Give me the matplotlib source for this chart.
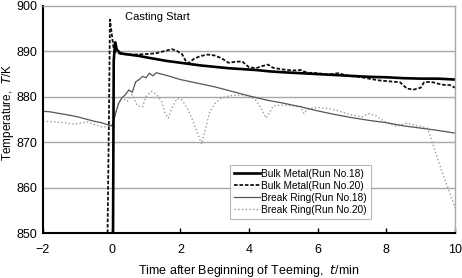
import matplotlib
matplotlib.use("Agg")
import matplotlib.pyplot as plt

plt.rcParams["font.family"] = ["Liberation Sans", "DejaVu Sans"]

# Bulk metal, Run No.18 (thick solid)
bulk18_t = [0.04, 0.06, 0.10, 0.15, 0.25, 0.4, 0.6, 0.8, 1.0, 1.3, 1.6, 2.0, 2.3, 2.6,
            3.0, 3.4, 3.8, 4.2, 4.6, 5.0, 5.5, 6.0, 6.5, 7.0, 7.5, 8.0, 8.5, 9.0, 9.5, 10.0]
bulk18_T = [850.0, 888.0, 892.0, 890.4, 889.6, 889.4, 889.2, 889.0, 888.7, 888.3, 887.9,
            887.5, 887.2, 886.9, 886.6, 886.3, 886.1, 885.9, 885.6, 885.4, 885.2, 885.0,
            884.8, 884.6, 884.4, 884.3, 884.1, 884.0, 884.0, 883.8]

# Bulk metal, Run No.20 (dashed)
bulk20_t = [-0.12, -0.08, -0.05, 0.0, 0.05, 0.12, 0.2, 0.3, 0.6, 1.0, 1.3, 1.6, 1.75,
            1.9, 2.05, 2.15, 2.25, 2.4, 2.6, 2.8, 3.0, 3.2, 3.4, 3.6, 3.8, 4.0, 4.2, 4.4,
            4.55, 4.7, 5.0, 5.3, 5.5, 5.7, 6.0, 6.3, 6.6, 6.9, 7.2, 7.5, 7.8, 8.1, 8.4,
            8.6, 8.8, 9.0, 9.1, 9.3, 9.5, 9.7, 9.85, 10.0]
bulk20_T = [850.0, 875.0, 897.0, 894.0, 891.0, 889.8, 889.6, 889.4, 889.3, 889.4, 889.6,
            890.2, 890.5, 890.1, 889.4, 888.0, 887.4, 888.4, 889.0, 889.3, 889.1, 888.5,
            887.5, 887.7, 887.8, 886.5, 886.3, 886.8, 887.1, 886.4, 886.0, 885.8, 885.9,
            885.3, 885.2, 884.9, 885.2, 884.6, 884.4, 884.0, 883.6, 883.4, 883.2, 881.8,
            881.6, 882.0, 883.2, 883.3, 882.9, 882.6, 882.6, 882.0]

# Break ring, Run No.18 (thin solid grey)
ring18_t = [-2.0, -1.8, -1.5, -1.2, -1.0, -0.7, -0.5, -0.3, -0.1, 0.0, 0.05, 0.12, 0.2,
            0.3, 0.4, 0.5, 0.6, 0.7, 0.8, 0.9, 1.0, 1.1, 1.2, 1.3, 1.5, 1.7, 2.0, 2.5,
            3.0, 3.5, 4.0, 4.5, 5.0, 5.5, 6.0, 6.5, 7.0, 7.5, 8.0, 8.5, 9.0, 9.5, 10.0]
ring18_T = [876.8, 876.7, 876.3, 875.9, 875.6, 875.0, 874.6, 874.3, 873.8, 873.6, 874.5,
            876.5, 878.5, 879.8, 880.5, 881.5, 881.0, 883.3, 883.8, 884.5, 884.2, 885.2,
            884.6, 885.3, 884.9, 884.5, 883.8, 883.0, 882.2, 881.2, 880.2, 879.3, 878.6,
            877.8, 876.9, 876.1, 875.4, 874.8, 874.3, 873.6, 873.1, 872.6, 872.0]

# Break ring, Run No.20 (dotted light grey)
ring20_t = [-2.0, -1.7, -1.4, -1.1, -0.9, -0.7, -0.5, -0.3, -0.1, 0.0, 0.1, 0.2, 0.3,
            0.45, 0.6, 0.75, 0.9, 1.0, 1.15, 1.3, 1.45, 1.55, 1.65, 1.75, 1.9, 2.05, 2.2,
            2.35, 2.5, 2.62, 2.72, 2.85, 3.0, 3.2, 3.5, 3.8, 4.0, 4.17, 4.35, 4.5, 4.6,
            4.7, 5.0, 5.3, 5.5, 5.6, 5.7, 6.0, 6.3, 6.6, 7.0, 7.3, 7.5, 7.7, 8.0, 8.3,
            8.6, 8.9, 9.2, 9.4, 9.6, 9.8, 10.0]
ring20_T = [874.6, 874.5, 874.3, 874.0, 874.2, 874.5, 873.9, 873.4, 873.4, 873.5, 876.0,
            878.5, 879.8, 879.0, 880.5, 878.0, 877.8, 880.0, 881.2, 880.6, 879.0, 876.5,
            875.3, 877.5, 879.6, 879.3, 877.5, 875.0, 872.0, 869.6, 872.5, 876.5, 878.5,
            879.8, 880.3, 880.4, 880.0, 879.6, 877.5, 875.3, 876.5, 878.0, 878.2, 878.0,
            877.9, 876.3, 877.3, 877.7, 877.4, 876.9, 876.0, 875.6, 876.3, 875.8, 874.3,
            873.5, 874.2, 873.6, 873.1, 868.5, 864.0, 859.8, 855.5]

labels = ["Bulk Metal(Run No.18)", "Bulk Metal(Run No.20)",
          "Break Ring(Run No.18)", "Break Ring(Run No.20)"]

fig = plt.figure(figsize=(4.62, 2.78), dpi=100)
ax = fig.add_axes([43 / 462, 45 / 278, 412 / 462, 227 / 278])

ax.plot(ring20_t, ring20_T, color="#9a9a9a", linestyle=":", linewidth=1.0, label=labels[3])
ax.plot(ring18_t, ring18_T, color="#555555", linestyle="-", linewidth=0.9, label=labels[2])
ax.plot(bulk20_t, bulk20_T, color="#111111", linestyle=(0, (2, 1)), linewidth=1.3,
        label=labels[1])
ax.plot(bulk18_t, bulk18_T, color="black", linestyle="-", linewidth=1.9, label=labels[0])

ax.set_xlim(-2, 10)
ax.set_ylim(850, 900)
ax.set_xticks([-2, 0, 2, 4, 6, 8, 10])
ax.set_xticklabels(["\u22122", "0", "2", "4", "6", "8", "10"])
ax.set_yticks([850, 860, 870, 880, 890, 900])

for y in [860, 870, 880, 890]:
    ax.axhline(y, color="#a8a8a8", linewidth=1.0, zorder=0)

for side in ["top", "right"]:
    ax.spines[side].set_color("#a8a8a8")
    ax.spines[side].set_linewidth(1.0)
for side in ["left", "bottom"]:
    ax.spines[side].set_color("black")
    ax.spines[side].set_linewidth(1.5)

ax.tick_params(axis="x", direction="in", length=3.5, width=1.0, pad=8, labelsize=9)
ax.tick_params(axis="y", length=0, pad=4, labelsize=9)

ax.text(0.38, 897.6, "Casting Start", fontsize=8, ha="left", va="center")

ax.set_xlabel("Time after Beginning of Teeming,  $\\it{t}$/min", fontsize=9, labelpad=5)
ax.set_ylabel("Temperature,  $\\it{T}$/K", fontsize=8.5)
ax.yaxis.set_label_coords(-0.066, 0.53)

handles, labs = ax.get_legend_handles_labels()
order = [3, 2, 1, 0]
leg = ax.legend([handles[i] for i in order], [labs[i] for i in order],
                loc="lower left", bbox_to_anchor=(0.454, 0.062), borderaxespad=0,
                fontsize=7.3, frameon=True, fancybox=False, handlelength=2.6,
                handletextpad=0.1, labelspacing=0.2, borderpad=0.4)
leg.get_frame().set_edgecolor("#a8a8a8")
leg.get_frame().set_linewidth(0.8)

fig.savefig("out.png", dpi=100)
